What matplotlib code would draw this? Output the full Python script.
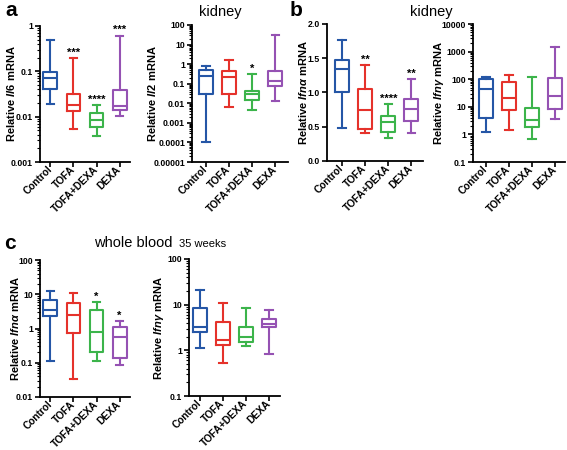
import numpy as np
import matplotlib
matplotlib.use('Agg')
import matplotlib.pyplot as plt
from matplotlib.ticker import FixedLocator, FuncFormatter, LogLocator, NullFormatter

plt.rcParams['font.family'] = ['Liberation Sans', 'DejaVu Sans']
plt.rcParams['font.weight'] = 'bold'
plt.rcParams['mathtext.fontset'] = 'custom'
plt.rcParams['mathtext.it'] = 'Liberation Sans:italic:bold'
plt.rcParams['mathtext.rm'] = 'Liberation Sans:bold'
plt.rcParams['mathtext.bf'] = 'Liberation Sans:bold'

groups = ['Control', 'TOFA', 'TOFA+DEXA', 'DEXA']
colors = ['#2556a6', '#e5322b', '#3cb44b', '#9552b3']

# each group: [whisker low, Q1, median, Q3, whisker high]
il6_kidney = [[0.019, 0.040, 0.070, 0.095, 0.49],
              [0.0054, 0.0135, 0.0177, 0.032, 0.194],
              [0.0037, 0.006, 0.0085, 0.012, 0.018],
              [0.0105, 0.014, 0.0174, 0.038, 0.61]]
il6_stars = ['', '***', '****', '***']

il2_kidney = [[0.0001, 0.031, 0.26, 0.51, 0.85],
              [0.0062, 0.031, 0.21, 0.44, 1.65],
              [0.0044, 0.014, 0.029, 0.044, 0.30],
              [0.0126, 0.073, 0.14, 0.44, 31.0]]
il2_stars = ['', '', '*', '']

ifna_kidney = [[0.48, 1.005, 1.34, 1.48, 1.76],
               [0.405, 0.47, 0.74, 1.05, 1.40],
               [0.34, 0.42, 0.57, 0.66, 0.83],
               [0.415, 0.59, 0.76, 0.91, 1.19]]
ifna_kidney_stars = ['', '**', '****', '**']

ifng_kidney = [[1.2, 3.9, 45, 103, 122],
               [1.4, 7.6, 20, 81, 145],
               [0.66, 1.85, 3.4, 8.9, 120],
               [3.7, 8.2, 24.5, 107, 1420]]
ifng_kidney_stars = ['', '', '', '']

ifna_blood = [[0.115, 2.3, 3.5, 6.8, 12.5],
              [0.033, 0.73, 2.5, 5.7, 10.7],
              [0.11, 0.21, 0.8, 3.5, 5.8],
              [0.085, 0.14, 0.57, 1.09, 1.64]]
ifna_blood_stars = ['', '', '*', '*']

ifng_blood = [[1.1, 2.5, 3.2, 8.4, 21],
              [0.52, 1.3, 1.7, 4.1, 11],
              [1.25, 1.5, 2.0, 3.3, 8.4],
              [0.82, 3.2, 3.8, 4.8, 7.7]]
ifng_blood_stars = ['', '', '', '']

W, H = 567, 450
fig = plt.figure(figsize=(W / 100, H / 100), dpi=100)

panels = [
    # data, stars, ylabel, log, ylim, (left, right, top, bottom px), xlim, labelx
    (il6_kidney, il6_stars, r'Relative $\mathit{Il6}$ mRNA', True, (0.001, 1), (40, 130, 26, 162), (-0.45, 3.45), -0.32),
    (il2_kidney, il2_stars, r'Relative $\mathit{Il2}$ mRNA', True, (1e-5, 100), (192, 288, 25, 162), (-0.6, 3.55), -0.42),
    (ifna_kidney, ifna_kidney_stars, r'Relative $\mathit{Ifn\alpha}$ mRNA', False, (0, 2), (327, 423, 24, 161), (-0.65, 3.5), -0.25),
    (ifng_kidney, ifng_kidney_stars, r'Relative $\mathit{Ifn\gamma}$ mRNA', True, (0.1, 10000), (473, 565, 24, 162), (-0.57, 3.43), -0.37),
    (ifna_blood, ifna_blood_stars, r'Relative $\mathit{Ifn\alpha}$ mRNA', True, (0.01, 100), (40, 130, 260, 397), (-0.45, 3.45), -0.28),
    (ifng_blood, ifng_blood_stars, r'Relative $\mathit{Ifn\gamma}$ mRNA', True, (0.1, 100), (189, 280, 259, 396), (-0.48, 3.48), -0.33),
]


def fmt_log(v, pos):
    e = int(round(np.log10(v)))
    if e >= 0:
        return str(10 ** e)
    return '0.' + '0' * (-e - 1) + '1'


for data, stars, ylabel, is_log, ylim, (l, r, t, b), xlim, labx in panels:
    ax = fig.add_axes([l / W, 1 - b / H, (r - l) / W, (b - t) / H])
    stats = []
    for g, d in zip(groups, data):
        stats.append(dict(label=g, whislo=d[0], q1=d[1], med=d[2], q3=d[3], whishi=d[4], fliers=[]))
    res = ax.bxp(stats, positions=range(len(groups)), widths=0.6, showfliers=False,
                 capwidths=0.32)
    for i, c in enumerate(colors):
        res['boxes'][i].set(color=c, linewidth=1.5)
        res['medians'][i].set(color=c, linewidth=1.5)
        for k in (2 * i, 2 * i + 1):
            res['whiskers'][k].set(color=c, linewidth=1.5)
            res['caps'][k].set(color=c, linewidth=1.5)
    for i, s in enumerate(stars):
        if s:
            ax.annotate(s, xy=(i, data[i][4]), xytext=(0, 0.5), textcoords='offset points',
                        ha='center', va='bottom', fontsize=8, fontweight='bold')
    if is_log:
        ax.set_yscale('log')
        ax.yaxis.set_major_locator(LogLocator(base=10, numticks=20))
        ax.yaxis.set_minor_locator(LogLocator(base=10, subs=np.arange(2, 10), numticks=20))
        ax.yaxis.set_major_formatter(FuncFormatter(fmt_log))
        ax.yaxis.set_minor_formatter(NullFormatter())
    else:
        ax.yaxis.set_major_locator(FixedLocator([0, 0.5, 1.0, 1.5, 2.0]))
        ax.yaxis.set_major_formatter(FuncFormatter(lambda v, p: '%.1f' % v))
    ax.set_ylim(*ylim)
    ax.set_xlim(*xlim)
    for sp in ('top', 'right'):
        ax.spines[sp].set_visible(False)
    for sp in ('left', 'bottom'):
        ax.spines[sp].set_linewidth(1.3)
    ax.tick_params(axis='both', which='major', length=3.5, width=1.2, direction='out', labelsize=6.3, pad=1.5)
    ax.tick_params(axis='y', which='minor', length=2, width=0.8, direction='out')
    ax.tick_params(axis='x', which='major', pad=0.5)
    ax.set_xticks(range(len(groups)))
    ax.set_xticklabels(groups, rotation=45, ha='right', va='center', rotation_mode='anchor',
                       fontsize=7.3, fontweight='bold')
    ax.set_ylabel(ylabel, fontsize=8, fontweight='bold', va='center')
    ax.yaxis.set_label_coords(labx, 0.5)

fig.text(11 / W, 1 - 10 / H, 'a', fontsize=15, fontweight='bold', ha='center', va='center')
fig.text(220 / W, 1 - 12 / H, 'kidney', fontsize=10.5, fontweight='normal', ha='center', va='center')
fig.text(296 / W, 1 - 10 / H, 'b', fontsize=15, fontweight='bold', ha='center', va='center')
fig.text(431 / W, 1 - 12 / H, 'kidney', fontsize=10.5, fontweight='normal', ha='center', va='center')
fig.text(10 / W, 1 - 243 / H, 'c', fontsize=15, fontweight='bold', ha='center', va='center')
fig.text(94 / W, 1 - 247 / H, 'whole blood', fontsize=10.5, fontweight='normal', ha='left', va='baseline')
fig.text(179 / W, 1 - 247 / H, '35 weeks', fontsize=8, fontweight='normal', ha='left', va='baseline')

fig.savefig('out.png', dpi=100, facecolor='white')
